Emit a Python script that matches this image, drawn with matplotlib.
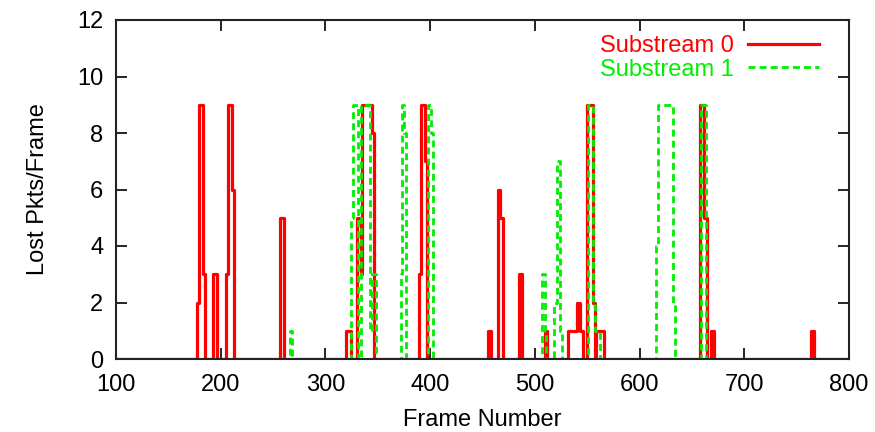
import matplotlib
matplotlib.use("Agg")
import matplotlib.pyplot as plt

plt.rcParams['font.family'] = ['Liberation Sans', 'DejaVu Sans']

# Substream 0: step breakpoints (frame, lost packets)
s0_frames = [100, 177, 179, 183, 185, 193, 196, 205, 207, 211, 213, 257, 260,
             320, 324, 330, 334, 335, 344, 346, 389, 391, 395, 397, 455, 458,
             465, 467, 470, 485, 488, 510, 512, 532, 540, 543, 546, 550, 556,
             557, 558, 566, 658, 662, 664, 668, 671, 764, 767, 800]
s0_values = [0, 2, 9, 3, 0, 3, 0, 3, 9, 6, 0, 5, 0,
             1, 0, 5, 3, 9, 8, 0, 3, 9, 7, 0, 1, 0,
             6, 5, 0, 3, 0, 1, 0, 1, 2, 1, 0, 9, 2,
             0, 1, 0, 9, 5, 0, 1, 0, 1, 0, 0]

# Substream 1
s1_frames = [100, 266, 268, 324, 326, 331, 334, 343, 344, 348, 372, 373, 375,
             377, 398, 401, 403, 507, 510, 511, 518, 521, 524, 526, 551, 556,
             557, 562, 616, 618, 632, 634, 659, 663, 800]
s1_values = [0, 1, 0, 5, 9, 0, 9, 1, 3, 0, 3, 9, 8,
             0, 9, 8, 0, 3, 1, 0, 2, 7, 1, 0, 9, 2,
             1, 0, 4, 9, 2, 0, 9, 0, 0]

x_ticks = [100, 200, 300, 400, 500, 600, 700, 800]
y_ticks = [0, 2, 4, 6, 8, 10, 12]

fig = plt.figure(figsize=(8.75, 4.32), dpi=100)
ax = fig.add_axes([116/875, 1-359/432, (849-116)/875, (359-20)/432])

ax.plot(s0_frames, s0_values, drawstyle='steps-post', color='#ff0000',
        lw=2.3, label='Substream 0')
ax.plot(s1_frames, s1_values, drawstyle='steps-post', color='#00ee00',
        lw=2.0, dashes=(2.5, 1.5), label='Substream 1')

ax.set_xlim(100, 800)
ax.set_ylim(0, 12)
ax.set_xticks(x_ticks)
ax.set_yticks(y_ticks)
ax.tick_params(direction='in', length=8, width=1.2, top=True, right=True,
               labelsize=17, colors='black')
ax.tick_params(axis='x', pad=11)
ax.tick_params(axis='y', pad=9)
for s in ax.spines.values():
    s.set_linewidth(1.5)
    s.set_color('#222222')

ax.set_xlabel('Frame Number', fontsize=17, labelpad=9)
ax.set_ylabel('Lost Pkts/Frame', fontsize=17, labelpad=20)

leg = ax.legend(loc='upper right', bbox_to_anchor=(828/875, 406/432),
                bbox_transform=fig.transFigure, markerfirst=False,
                frameon=False, fontsize=17, handlelength=3.0,
                labelspacing=0.05, borderaxespad=0.0, handletextpad=0.6,
                labelcolor='linecolor')

fig.savefig('out.png', dpi=100)
